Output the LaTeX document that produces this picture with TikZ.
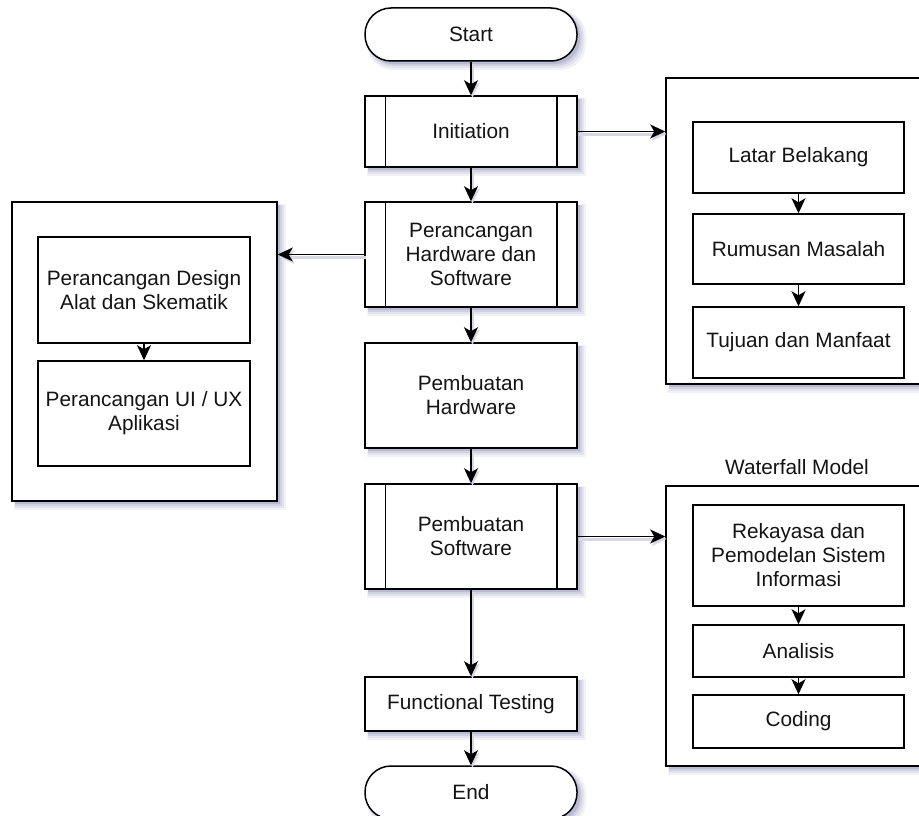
\documentclass[tikz,border=0pt]{standalone}
\usepackage{fontspec}
\setmainfont{Liberation Sans}
\usetikzlibrary{arrows.meta,calc}

\definecolor{shcol}{RGB}{140,140,180}
\definecolor{ink}{RGB}{20,20,20}

\tikzset{
  x=1pt, y=-1pt,
  txt/.style={font=\fontsize{20.8pt}{24pt}\selectfont, text=ink, align=center},
  box/.style={txt, draw=black, fill=white, line width=1.5pt, inner sep=0pt},
  proc/.style={box},
  term/.style={box, rounded corners=26pt},
  inner/.style={box, minimum width=211pt},
  arr/.style={draw=black, line width=1.5pt, -{Stealth[length=15pt,width=14pt,inset=4pt]}},
  arrsh/.style={arr,
    preaction={draw=shcol!35, line width=3pt,
      transform canvas={shift={(1.5pt,-2.5pt)}}}}
}

% soft shadow layers below-right of a box: #1 radius, #2 x, #3 y, #4 width, #5 height
\newcommand\boxshadow[5]{%
  \fill[shcol!12, rounded corners=#1] (#2+2, #3+2) rectangle (#2+#4+9, #3+#5+9);
  \fill[shcol!24, rounded corners=#1] (#2+2.5, #3+2.5) rectangle (#2+#4+7, #3+#5+7);
  \fill[shcol!40, rounded corners=#1] (#2+3, #3+3) rectangle (#2+#4+5, #3+#5+5);
  \fill[shcol!60, rounded corners=#1] (#2+3, #3+3) rectangle (#2+#4+3.2, #3+#5+3.2);
}

\begin{document}
\begin{tikzpicture}
\useasboundingbox (0,0) rectangle (919,816);
\fill[white] (0,0) rectangle (919,816);

% shadows of the outer shapes (top-left corner, width, height)
\boxshadow{26pt}{365}{8}{212}{53}
\boxshadow{0pt}{365}{96}{212}{71}
\boxshadow{0pt}{365}{202}{212}{105}
\boxshadow{0pt}{365}{343}{212}{105}
\boxshadow{0pt}{365}{484}{212}{105}
\boxshadow{0pt}{365}{677}{212}{54}
\boxshadow{26pt}{365}{766}{212}{53}
\boxshadow{0pt}{12}{202}{265}{299}
\boxshadow{0pt}{666}{78}{269}{306}
\boxshadow{0pt}{666}{486}{269}{280}

% main flow
\node[term, minimum width=212pt, minimum height=53pt]  (start) at (471,34.5)  {Start};
\node[proc, minimum width=212pt, minimum height=71pt]  (init)  at (471,131.5) {Initiation};
\node[proc, minimum width=212pt, minimum height=105pt] (phs)   at (471,254.5) {Perancangan\\Hardware dan\\Software};
\node[proc, minimum width=212pt, minimum height=105pt] (ph)    at (471,395.5) {Pembuatan\\Hardware};
\node[proc, minimum width=212pt, minimum height=105pt] (ps)    at (471,536.5) {Pembuatan\\Software};
\node[proc, minimum width=212pt, minimum height=54pt]  (ft)    at (471,704)   {Functional Testing};
\node[term, minimum width=212pt, minimum height=53pt]  (fin)   at (471,792.5) {End};

% predefined-process side bars
\foreach \n in {init,phs,ps}{
  \draw[line width=1.5pt] ([xshift=21pt]\n.north west) -- ([xshift=21pt]\n.south west);
  \draw[line width=1.5pt] ([xshift=-21pt]\n.north east) -- ([xshift=-21pt]\n.south east);
}

% design group (left)
\node[proc, minimum width=265pt, minimum height=299pt] (lc) at (144.5,351.5) {};
\node[inner, minimum width=212pt, minimum height=106pt] (d1) at (144,290) {Perancangan Design\\Alat dan Skematik};
\node[inner, minimum width=212pt, minimum height=105pt] (d2) at (144,413.5) {Perancangan UI / UX\\Aplikasi};

% initiation group (right)
\node[proc, minimum width=269pt, minimum height=306pt] (rc) at (800.5,231) {};
\node[inner, minimum height=71pt] (l1) at (798.5,157.5) {Latar Belakang};
\node[inner, minimum height=70pt] (l2) at (798.5,249)   {Rumusan Masalah};
\node[inner, minimum height=71pt] (l3) at (798.5,342.5) {Tujuan dan Manfaat};

% waterfall group (right)
\node[txt] (wlabel) at (797,467) {Waterfall Model};
\node[proc, minimum width=269pt, minimum height=280pt] (wc) at (800.5,626) {};
\node[inner, minimum height=101pt] (w1) at (798.5,555.5) {Rekayasa dan\\Pemodelan Sistem\\Informasi};
\node[inner, minimum height=52pt]  (w2) at (798.5,651)   {Analisis};
\node[inner, minimum height=53pt]  (w3) at (798.5,721.5) {Coding};

% connectors
\draw[arrsh] (start) -- (init);
\draw[arrsh] (init) -- (phs);
\draw[arrsh] (phs) -- (ph);
\draw[arrsh] (ph) -- (ps);
\draw[arrsh] (ps) -- (ft);
\draw[arrsh] (ft) -- (fin);
\draw[arrsh] (init.east) -- (init.east -| rc.west);
\draw[arrsh] (phs.west) -- (phs.west -| lc.east);
\draw[arrsh] (ps.east) -- (ps.east -| wc.west);

\draw[arr] (d1) -- (d2);
\draw[arr] (l1) -- (l2);
\draw[arr] (l2) -- (l3);
\draw[arr] (w1) -- (w2);
\draw[arr] (w2) -- (w3);
\end{tikzpicture}
\end{document}
